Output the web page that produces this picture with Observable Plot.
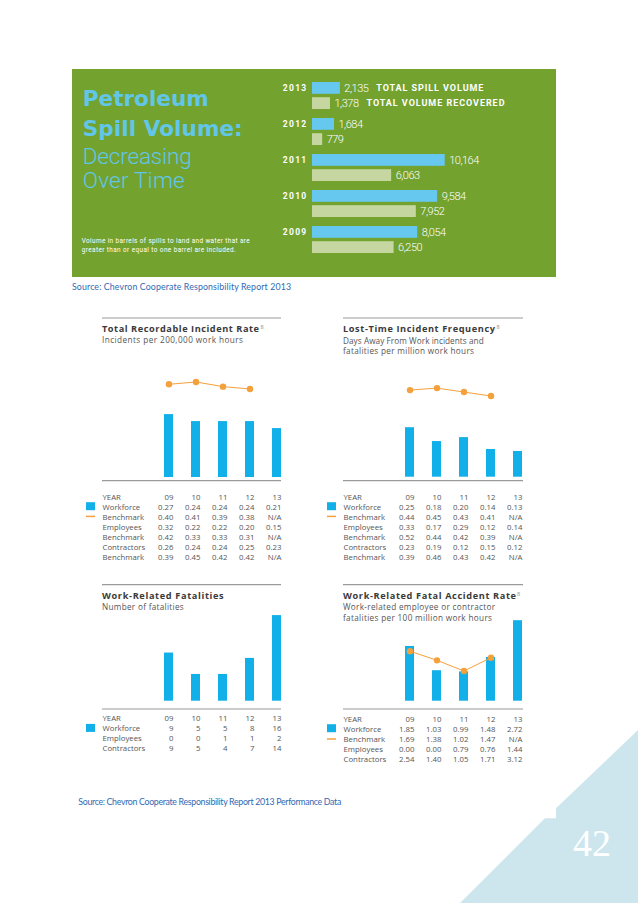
<!DOCTYPE html>
<html>
<head>
<meta charset="utf-8">
<script src="https://cdn.jsdelivr.net/npm/d3@7"></script>
<script src="https://cdn.jsdelivr.net/npm/@observablehq/plot@0.6"></script>
<style>
html,body{margin:0;padding:0;background:#fff;}
#page{position:relative;width:638px;height:903px;overflow:hidden;background:#fff;}
#page svg{position:absolute;}
</style>
</head>
<body>
<div id="page"></div>
<script>
// ---------- DATA ----------
const spillYears = ["2013", "2012", "2011", "2010", "2009"];
const spillTotal = [2135, 1684, 10164, 9584, 8054];
const spillRecovered = [1378, 779, 6063, 7952, 6250];
const spillLegend = ["TOTAL SPILL VOLUME", "TOTAL VOLUME RECOVERED"];

const years = ["09", "10", "11", "12", "13"];

const trirWorkforce = [0.27, 0.24, 0.24, 0.24, 0.21];
const trirBenchmark = [0.40, 0.41, 0.39, 0.38, null];
const trirEmployees = [0.32, 0.22, 0.22, 0.20, 0.15];
const trirEmpBenchmark = [0.42, 0.33, 0.33, 0.31, null];
const trirContractors = [0.26, 0.24, 0.24, 0.25, 0.23];
const trirConBenchmark = [0.39, 0.45, 0.42, 0.42, null];

const ltifWorkforce = [0.25, 0.18, 0.20, 0.14, 0.13];
const ltifBenchmark = [0.44, 0.45, 0.43, 0.41, null];
const ltifEmployees = [0.33, 0.17, 0.29, 0.12, 0.14];
const ltifEmpBenchmark = [0.52, 0.44, 0.42, 0.39, null];
const ltifContractors = [0.23, 0.19, 0.12, 0.15, 0.12];
const ltifConBenchmark = [0.39, 0.46, 0.43, 0.42, null];

const fatWorkforce = [9, 5, 5, 8, 16];
const fatEmployees = [0, 0, 1, 1, 2];
const fatContractors = [9, 5, 4, 7, 14];

const farWorkforce = [1.85, 1.03, 0.99, 1.48, 2.72];
const farBenchmark = [1.69, 1.38, 1.02, 1.47, null];
const farEmployees = [0.00, 0.00, 0.79, 0.76, 1.44];
const farContractors = [2.54, 1.40, 1.05, 1.71, 3.12];

// ---------- HELPERS ----------
const page = document.getElementById("page");
const BLUE = "#12b0e8", ORANGE = "#f4a03c";
function place(node, left, top) {
  node.style.position = "absolute";
  node.style.left = left + "px";
  node.style.top = top + "px";
  page.appendChild(node);
}
const fmt2 = v => v == null ? "N/A" : v.toFixed(2);
const fmt0 = v => v == null ? "N/A" : String(v);
const fmtComma = d3.format(",");

// ---------- BANNER ----------
const spillTot = spillYears.map((year, i) => ({year, value: spillTotal[i], legend: spillLegend[0]}));
const spillRec = spillYears.map((year, i) => ({year, value: spillRecovered[i], legend: spillLegend[1]}));
const bandInset = 15.2, halfOff = 7.6;
const banner = Plot.plot({
  width: 484, height: 208,
  marginLeft: 240, marginRight: 111.3, marginTop: 13, marginBottom: 24,
  style: {background: "#73a22f", overflow: "visible"},
  x: {domain: [0, 10164], axis: null},
  y: {domain: spillYears, paddingInner: 0.25, paddingOuter: 0, axis: null},
  marks: [
    Plot.barX(spillTot, {y: "year", x: "value", fill: "#66c8ee", insetBottom: bandInset}),
    Plot.barX(spillRec, {y: "year", x: "value", fill: "#c5d6a0", insetTop: bandInset}),
    Plot.text(spillTot, {y: "year", x: "value", dy: -halfOff, dx: 4, textAnchor: "start", text: d => fmtComma(d.value), fill: "white", fontSize: 11, fontWeight: 300, fontFamily: "Roboto"}),
    Plot.text(spillRec, {y: "year", x: "value", dy: halfOff, dx: 4, textAnchor: "start", text: d => fmtComma(d.value), fill: "white", fontSize: 11, fontWeight: 300, fontFamily: "Roboto"}),
    Plot.text(spillTot, {y: "year", frameAnchor: "left", dx: -5, dy: -halfOff, textAnchor: "end", text: "year", fill: "white", fontSize: 8.5, fontWeight: "bold", fontFamily: "Roboto"}),
    Plot.text(spillTot.slice(0, 1), {y: "year", x: "value", dx: 36, dy: -halfOff, textAnchor: "start", text: "legend", fill: "white", fontSize: 9, fontWeight: "bold", fontFamily: "Roboto"}),
    Plot.text(spillRec.slice(0, 1), {y: "year", x: "value", dx: 36, dy: halfOff, textAnchor: "start", text: "legend", fill: "white", fontSize: 9, fontWeight: "bold", fontFamily: "Roboto"})
  ]
});
place(banner, 72, 69);
// letter spacing tweaks
{
  const groups = banner.querySelectorAll('g[aria-label="text"]');
  [0, 1].forEach(i => groups[i] && groups[i].setAttribute("letter-spacing", "-0.5"));
  [2].forEach(i => groups[i] && groups[i].setAttribute("letter-spacing", "1.3"));
  const legendWidths = [107, 138];
  [3, 4].forEach((i, k) => {
    if (!groups[i]) return;
    groups[i].querySelectorAll("text").forEach(t => {
      t.setAttribute("textLength", legendWidths[k]);
      t.setAttribute("lengthAdjust", "spacing");
    });
  });
}

// ---------- PANELS ----------
const xBand = {type: "band", domain: years, range: [62, 179], paddingInner: 0.67, paddingOuter: 0, axis: null};
const halfBand = (117 / (5 - 0.67)) * 0.33 / 2;

function panelChart({left, top, height, baseline, scale, workforce, benchmark}) {
  const data = years.map((year, i) => ({year, workforce: workforce[i], benchmark: benchmark ? benchmark[i] : null}));
  const bench = data.filter(d => d.benchmark != null);
  const marks = [Plot.barY(data, {x: "year", y: "workforce", fill: BLUE})];
  if (benchmark) {
    marks.push(
      Plot.line(bench, {x: "year", y: "benchmark", stroke: ORANGE, strokeWidth: 1}),
      Plot.dot(bench, {x: "year", y: "benchmark", r: 3.2, fill: ORANGE})
    );
  }
  const chart = Plot.plot({
    width: 180, height, margin: 0,
    style: {background: "transparent", overflow: "visible"},
    x: xBand,
    y: {domain: [0, 1], range: [baseline, baseline - scale], axis: null},
    marks
  });
  place(chart, left, top);
}

function panelTable({left, top, rowStart, rowStep, rows, fmt}) {
  const allRows = [{label: "YEAR", values: years, header: true}, ...rows];
  const cells = allRows.flatMap((r, ri) => years.map((year, j) => ({row: ri, year, text: r.header ? year : fmt(r.values[j])})));
  const n = allRows.length;
  const table = Plot.plot({
    width: 180, height: rowStart * 2 + rowStep * (n - 1), margin: 0,
    style: {background: "transparent", overflow: "visible"},
    x: xBand,
    y: {type: "point", domain: d3.range(n), range: [rowStart, rowStart + rowStep * (n - 1)], padding: 0, axis: null},
    marks: [
      Plot.text(allRows, {y: (d, i) => i, frameAnchor: "left", textAnchor: "start", text: "label", fill: "#555", fontSize: 7.8, fontFamily: "Open Sans"}),
      Plot.text(cells, {x: "year", y: "row", text: "text", textAnchor: "end", dx: halfBand, fill: "#555", fontSize: 7.8, fontFamily: "Open Sans"})
    ]
  });
  place(table, left, top);
}

// Panel 1 – TRIR
panelChart({left: 102, top: 360, height: 121, baseline: 117, scale: 233, workforce: trirWorkforce, benchmark: trirBenchmark});
panelTable({left: 102, top: 481, rowStart: 15, rowStep: 10.2, fmt: fmt2, rows: [
  {label: "Workforce", values: trirWorkforce}, {label: "Benchmark", values: trirBenchmark},
  {label: "Employees", values: trirEmployees}, {label: "Benchmark", values: trirEmpBenchmark},
  {label: "Contractors", values: trirContractors}, {label: "Benchmark", values: trirConBenchmark}]});

// Panel 2 – LTIF
panelChart({left: 343, top: 360, height: 121, baseline: 116.7, scale: 198, workforce: ltifWorkforce, benchmark: ltifBenchmark});
panelTable({left: 343, top: 481, rowStart: 15, rowStep: 10.2, fmt: fmt2, rows: [
  {label: "Workforce", values: ltifWorkforce}, {label: "Benchmark", values: ltifBenchmark},
  {label: "Employees", values: ltifEmployees}, {label: "Benchmark", values: ltifEmpBenchmark},
  {label: "Contractors", values: ltifContractors}, {label: "Benchmark", values: ltifConBenchmark}]});

// Panel 3 – Fatalities
panelChart({left: 102, top: 610, height: 99, baseline: 90.7, scale: 5.35, workforce: fatWorkforce, benchmark: null});
panelTable({left: 102, top: 709, rowStart: 8.3, rowStep: 10.6, fmt: fmt0, rows: [
  {label: "Workforce", values: fatWorkforce}, {label: "Employees", values: fatEmployees},
  {label: "Contractors", values: fatContractors}]});

// Panel 4 – FAR
panelChart({left: 343, top: 610, height: 99, baseline: 90.7, scale: 29.6, workforce: farWorkforce, benchmark: farBenchmark});
panelTable({left: 343, top: 709, rowStart: 8.3, rowStep: 10.85, fmt: fmt2, rows: [
  {label: "Workforce", values: farWorkforce}, {label: "Benchmark", values: farBenchmark},
  {label: "Employees", values: farEmployees}, {label: "Contractors", values: farContractors}]});

// ---------- OVERLAY (text, rules, decoration) ----------
const ov = d3.create("svg").attr("width", 638).attr("height", 903).attr("viewBox", "0 0 638 903")
  .style("left", "0px").style("top", "0px").style("pointer-events", "none");
function txt(s, x, y, o = {}) {
  const t = ov.append("text").attr("x", x).attr("y", y).text(s)
    .attr("font-family", o.family || "Open Sans")
    .attr("font-size", o.size || 8)
    .attr("font-weight", o.weight || 400)
    .attr("fill", o.fill || "#333");
  if (o.width) t.attr("textLength", o.width).attr("lengthAdjust", "spacing");
  if (o.anchor) t.attr("text-anchor", o.anchor);
  return t;
}
function rule(x1, x2, y) {
  ov.append("line").attr("x1", x1).attr("x2", x2).attr("y1", y).attr("y2", y)
    .attr("stroke", "#9a9a9a").attr("stroke-width", 1.2);
}

// decoration triangle
ov.append("polygon")
  .attr("points", "638,730 556,808.3 556,818.3 545,818.3 460,903 638,903")
  .attr("fill", "#cde6ee");
txt("42", 573, 856, {family: "Liberation Serif", size: 38, fill: "#ffffff"});

// banner text
const TB = "#62c6e8";
txt("Petroleum", 82.7, 105.7, {family: "DejaVu Sans", weight: 700, size: 21.5, fill: TB, width: 126});
txt("Spill Volume:", 82.7, 135.7, {family: "DejaVu Sans", weight: 700, size: 21.5, fill: TB, width: 160});
txt("Decreasing", 82.7, 164, {family: "Roboto", weight: 300, size: 22.5, fill: TB, width: 109});
txt("Over Time", 82.7, 188.3, {family: "Roboto", weight: 300, size: 22.5, fill: TB, width: 102});
txt("Volume in barrels of spills to land and water that are", 81.7, 243, {family: "Roboto", size: 6.4, fill: "#ffffff", width: 168});
txt("greater than or equal to one barrel are included.", 81.7, 252, {family: "Roboto", size: 6.4, fill: "#ffffff", width: 154});

// sources
const SRC = "#3169b3";
txt("Source: Chevron Cooperate Responsibility Report 2013", 72, 289.8, {family: "Lato", size: 8.8, fill: SRC, width: 219});
txt("Source: Chevron Cooperate Responsibility Report 2013 Performance Data", 78.3, 804.8, {family: "Lato", size: 8.8, fill: SRC, width: 263});

// panel headings & rules
const TT = {weight: 700, size: 9.2, fill: "#3a3a3a"};
const ST = {size: 8.2, fill: "#555"};
const SUP = {size: 5.5, fill: "#888"};
// P1
rule(102, 281, 318); rule(102, 281, 480.7);
txt("Total Recordable Incident Rate", 102, 332.3, {...TT, width: 157});
txt("8", 260.5, 328.5, SUP);
txt("Incidents per 200,000 work hours", 102, 343.3, {...ST, width: 141});
// P2
rule(343, 523, 318); rule(343, 523, 480.7);
txt("Lost-Time Incident Frequency", 343, 332.3, {...TT, width: 152});
txt("8", 496.5, 328.5, SUP);
txt("Days Away From Work incidents and", 343, 343.7, {...ST, width: 140.7});
txt("fatalities per million work hours", 343, 354, {...ST, width: 131});
// P3
rule(102, 281, 584.7); rule(102, 281, 709);
txt("Work-Related Fatalities", 102, 599, {...TT, width: 121.7});
txt("Number of fatalities", 102, 609.7, {...ST, width: 81.7});
// P4
rule(343, 523, 584.7); rule(343, 523, 709);
txt("Work-Related Fatal Accident Rate", 343, 599, {...TT, width: 173});
txt("8", 517, 595.5, SUP);
txt("Work-related employee or contractor", 343, 609.7, {...ST, width: 152});
txt("fatalities per 100 million work hours", 343, 621, {...ST, width: 149});

// legend swatches
function swatches(x, wfY, bmY) {
  ov.append("rect").attr("x", x).attr("y", wfY - 4).attr("width", 9).attr("height", 8).attr("fill", BLUE);
  if (bmY != null) ov.append("line").attr("x1", x).attr("x2", x + 9).attr("y1", bmY).attr("y2", bmY)
    .attr("stroke", ORANGE).attr("stroke-width", 1.5);
}
swatches(86, 506.2, 516.4);
swatches(327, 506.2, 516.4);
swatches(86, 727.9, null);
swatches(327, 728.2, 739);

page.appendChild(ov.node());
</script>
</body>
</html>
